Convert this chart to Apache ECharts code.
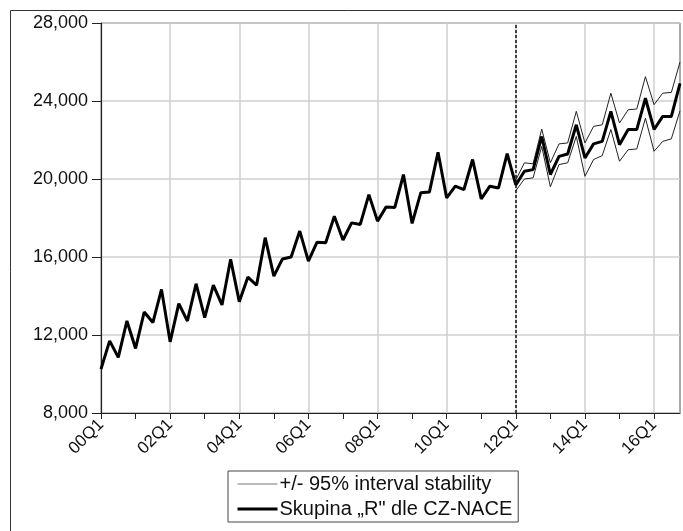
<!DOCTYPE html>
<html>
<head>
<meta charset="utf-8">
<script src="https://cdn.jsdelivr.net/npm/echarts@6/dist/echarts.min.js"></script>
<style>
  html, body { margin: 0; padding: 0; background: #fff; }
  #chart { width: 683px; height: 531px; }
</style>
</head>
<body>
<div id="chart"></div>
<script>
// quarters 2000Q1 .. 2016Q4
const years = ['00','01','02','03','04','05','06','07','08','09','10','11','12','13','14','15','16']
const quarters = years.flatMap((y) => [y + 'Q1', y + 'Q2', y + 'Q3', y + 'Q4'])

// Skupina "R" dle CZ-NACE (actual to 11Q4, forecast from 12Q1)
const skupinaR = [
  10250, 11700, 10850, 12720,
  11310, 13180, 12640, 14340,
  11650, 13610, 12720, 14630,
  12890, 14560, 13540, 15880,
  13710, 14970, 14550, 16990,
  15020, 15900, 16000, 17330,
  15790, 16760, 16730, 18090,
  16870, 17750, 17670, 19200,
  17840, 18570, 18540, 20230,
  17720, 19290, 19330, 21370,
  19030, 19630, 19460, 21000,
  18980, 19630, 19540, 21300,
  19700, 20400, 20480, 22180,
  20230, 21160, 21280, 22780,
  21080, 21800, 21930, 23470,
  21760, 22540, 22540, 24140,
  22540, 23210, 23210, 24900
]

// +/- 95% band, 12Q1 .. 16Q4
const upperBand = [
  19950, 20830, 20780, 22560,
  20830, 21800, 21850, 23470,
  21850, 22700, 22780, 24400,
  22870, 23550, 23590, 25250,
  23810, 24400, 24440, 26000
]
const lowerBand = [
  19400, 20000, 20060, 21670,
  19600, 20740, 20830, 22180,
  20140, 21000, 21200, 22540,
  20910, 21500, 21540, 23120,
  21420, 21930, 22060, 23500
]

const yTicks = [8000, 28000, 4000] // min, max, step
const forecastStart = '12Q1'

const bandName = '+/- 95% interval stability'
const mainName = 'Skupina \u201eR" dle CZ-NACE'

function padBand(vals) {
  const start = quarters.indexOf(forecastStart)
  return quarters.map((q, i) => (i >= start ? vals[i - start] : null))
}

const chart = echarts.init(document.getElementById('chart'))
const font = '"Liberation Sans", Arial, sans-serif'

chart.setOption({
  animation: false,
  textStyle: { fontFamily: font },
  graphic: [{
    type: 'rect',
    left: 8, top: 8,
    shape: { width: 700, height: 560 },
    style: { fill: 'none', stroke: '#333', lineWidth: 1 },
    silent: true,
  }],
  grid: {
    left: 101, right: 3, top: 23, bottom: 118,
    show: true,
    borderColor: '#555',
    borderWidth: 1,
  },
  legend: {
    data: [
      { name: bandName, lineStyle: { width: 1, color: '#777' } },
      { name: mainName, lineStyle: { width: 3, color: '#000' } },
    ],
    orient: 'vertical',
    left: 228, top: 471,
    itemWidth: 40,
    itemHeight: 12,
    itemGap: 5,
    padding: [3, 6, 3, 8],
    borderColor: '#444',
    borderWidth: 1,
    itemStyle: { opacity: 0 },
    textStyle: { fontSize: 20, color: '#111', fontFamily: font, padding: [0, 0, 0, -3] },
  },
  xAxis: {
    type: 'category',
    data: quarters,
    boundaryGap: false,
    axisLine: { lineStyle: { color: '#222', width: 1.2 } },
    axisTick: {
      interval: (i) => i % 4 === 0,
      length: 6,
      lineStyle: { color: '#222' },
    },
    axisLabel: {
      interval: (i) => i % 8 === 0,
      rotate: 45,
      fontSize: 17,
      color: '#111',
      margin: 9,
    },
    splitLine: {
      show: true,
      interval: (i) => i % 8 === 0,
      lineStyle: { color: '#cfcfcf', width: 1.5 },
    },
  },
  yAxis: {
    type: 'value',
    min: yTicks[0],
    max: yTicks[1],
    interval: yTicks[2],
    axisLine: { show: true, lineStyle: { color: '#222', width: 1.2 } },
    axisTick: { show: true, length: 9, lineStyle: { color: '#222' } },
    axisLabel: {
      fontSize: 18,
      color: '#111',
      margin: 13,
      formatter: (v) => v.toLocaleString('en-US'),
    },
    splitLine: { lineStyle: { color: '#cfcfcf', width: 1.5 } },
  },
  series: [
    {
      name: bandName,
      type: 'line',
      data: padBand(upperBand),
      symbol: 'none',
      lineStyle: { color: '#222', width: 1 },
      itemStyle: { color: '#222' },
    },
    {
      name: bandName,
      type: 'line',
      data: padBand(lowerBand),
      symbol: 'none',
      lineStyle: { color: '#222', width: 1 },
      itemStyle: { color: '#222' },
    },
    {
      name: mainName,
      type: 'line',
      data: skupinaR,
      symbol: 'none',
      lineStyle: { color: '#000', width: 3 },
      itemStyle: { color: '#000' },
      markLine: {
        silent: true,
        symbol: 'none',
        label: { show: false },
        lineStyle: { color: '#111', type: [3, 2], width: 1.5 },
        data: [{ xAxis: forecastStart }],
      },
      z: 3,
    },
  ],
})
</script>
</body>
</html>
